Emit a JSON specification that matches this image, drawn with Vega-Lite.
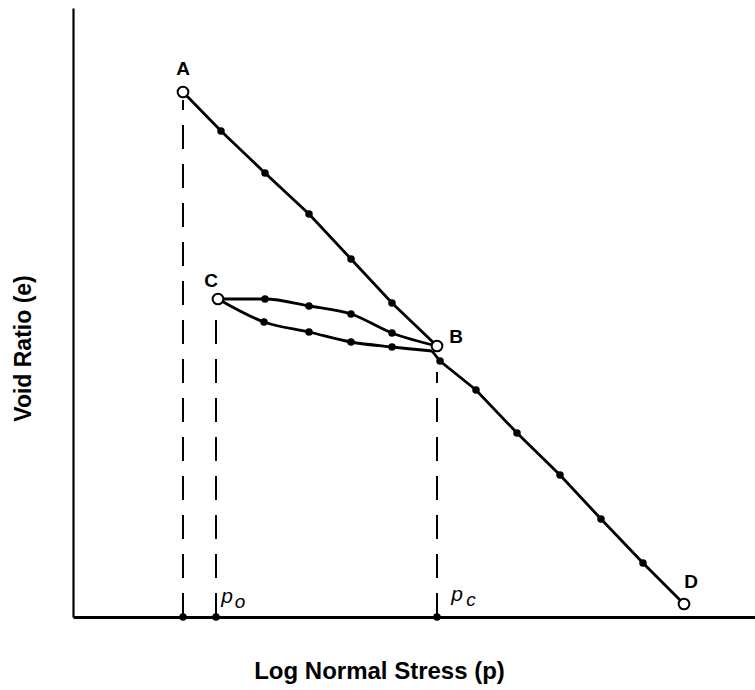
{
  "$schema": "https://vega.github.io/schema/vega-lite/v6.json",
  "width": 682,
  "height": 609,
  "autosize": {"type": "none"},
  "padding": {"left": 73, "top": 8, "right": 0, "bottom": 73},
  "background": "white",
  "config": {"view": {"stroke": null}, "font": "Liberation Sans"},
  "datasets": {
    "straight": [
      {"seg": "AB", "i": 0, "x": 113, "e": 525},
      {"seg": "AB", "i": 1, "x": 151, "e": 486},
      {"seg": "AB", "i": 2, "x": 195, "e": 444},
      {"seg": "AB", "i": 3, "x": 239, "e": 403},
      {"seg": "AB", "i": 4, "x": 281, "e": 358},
      {"seg": "AB", "i": 5, "x": 322, "e": 314},
      {"seg": "AB", "i": 6, "x": 367, "e": 271},
      {"seg": "BD", "i": 0, "x": 362, "e": 266},
      {"seg": "BD", "i": 1, "x": 370, "e": 256},
      {"seg": "BD", "i": 2, "x": 406, "e": 227},
      {"seg": "BD", "i": 3, "x": 447, "e": 184},
      {"seg": "BD", "i": 4, "x": 490, "e": 142},
      {"seg": "BD", "i": 5, "x": 531, "e": 98},
      {"seg": "BD", "i": 6, "x": 573, "e": 54},
      {"seg": "BD", "i": 7, "x": 614, "e": 13}
    ],
    "loops": [
      {"seg": "CBup", "i": 0, "x": 148, "e": 318},
      {"seg": "CBup", "i": 1, "x": 195, "e": 318},
      {"seg": "CBup", "i": 2, "x": 239, "e": 311},
      {"seg": "CBup", "i": 3, "x": 281, "e": 303},
      {"seg": "CBup", "i": 4, "x": 322, "e": 284},
      {"seg": "CBup", "i": 5, "x": 367, "e": 271},
      {"seg": "CBlow", "i": 0, "x": 148, "e": 318},
      {"seg": "CBlow", "i": 1, "x": 194, "e": 295},
      {"seg": "CBlow", "i": 2, "x": 239, "e": 285},
      {"seg": "CBlow", "i": 3, "x": 281, "e": 275},
      {"seg": "CBlow", "i": 4, "x": 322, "e": 270},
      {"seg": "CBlow", "i": 5, "x": 362, "e": 266}
    ],
    "dots": [
      {"x": 151, "e": 486}, {"x": 195, "e": 444}, {"x": 239, "e": 403},
      {"x": 281, "e": 358}, {"x": 322, "e": 314},
      {"x": 370, "e": 256}, {"x": 406, "e": 227}, {"x": 447, "e": 184},
      {"x": 490, "e": 142}, {"x": 531, "e": 98}, {"x": 573, "e": 54},
      {"x": 195, "e": 318}, {"x": 239, "e": 311}, {"x": 281, "e": 303}, {"x": 322, "e": 284},
      {"x": 194, "e": 295}, {"x": 239, "e": 285}, {"x": 281, "e": 275}, {"x": 322, "e": 270},
      {"x": 113, "e": 0}, {"x": 146, "e": 0}, {"x": 367, "e": 0}
    ],
    "nodes": [
      {"name": "A", "x": 113, "e": 525, "lx": 113, "le": 548},
      {"name": "B", "x": 367, "e": 271, "lx": 386, "le": 280},
      {"name": "C", "x": 148, "e": 318, "lx": 141, "le": 336},
      {"name": "D", "x": 614, "e": 13, "lx": 621, "le": 35}
    ],
    "guides": [
      {"x": 113, "e0": 0, "e1": 517},
      {"x": 146, "e0": 0, "e1": 309},
      {"x": 367, "e0": 0, "e1": 245}
    ],
    "pmain": [
      {"t": "p", "x": 157, "e": 20},
      {"t": "p", "x": 387, "e": 22}
    ],
    "psub": [
      {"t": "o", "x": 170, "e": 15},
      {"t": "c", "x": 401, "e": 17}
    ]
  },
  "encoding": {
    "x": {
      "field": "x", "type": "quantitative",
      "scale": {"domain": [3, 685], "nice": false, "zero": false},
      "axis": {
        "title": "Log Normal Stress (p)",
        "grid": false, "ticks": false, "labels": false,
        "domainColor": "black", "domainWidth": 2.8,
        "titleFont": "Liberation Sans", "titleFontSize": 24, "titleFontWeight": "bold",
        "titleColor": "black", "titleX": 306, "titleY": 54,
        "titleAlign": "center", "titleBaseline": "middle"
      }
    },
    "y": {
      "field": "e", "type": "quantitative",
      "scale": {"domain": [0, 609], "nice": false, "zero": false},
      "axis": {
        "title": "Void Ratio (e)",
        "grid": false, "ticks": false, "labels": false,
        "domainColor": "black", "domainWidth": 2.2,
        "titleFont": "Liberation Sans", "titleFontSize": 23, "titleFontWeight": "bold",
        "titleColor": "black", "titleX": -50, "titleY": 340,
        "titleAlign": "center", "titleBaseline": "middle", "titleAngle": 270
      }
    }
  },
  "layer": [
    {
      "data": {"name": "guides"},
      "mark": {"type": "rule", "color": "black", "strokeWidth": 2, "strokeDash": [24, 15]},
      "encoding": {
        "y": {"field": "e0", "type": "quantitative"},
        "y2": {"field": "e1"}
      }
    },
    {
      "data": {"name": "straight"},
      "mark": {"type": "line", "color": "black", "strokeWidth": 2.8, "interpolate": "linear"},
      "encoding": {
        "detail": {"field": "seg"},
        "order": {"field": "i", "type": "quantitative"}
      }
    },
    {
      "data": {"name": "loops"},
      "mark": {"type": "line", "color": "black", "strokeWidth": 2.8, "interpolate": "monotone"},
      "encoding": {
        "detail": {"field": "seg"},
        "order": {"field": "i", "type": "quantitative"}
      }
    },
    {
      "data": {"name": "dots"},
      "mark": {"type": "circle", "color": "black", "opacity": 1, "size": 56}
    },
    {
      "data": {"name": "nodes"},
      "mark": {"type": "point", "shape": "circle", "fill": "white", "filled": false, "stroke": "black", "strokeWidth": 2, "opacity": 1, "size": 115}
    },
    {
      "data": {"name": "nodes"},
      "mark": {"type": "text", "font": "Liberation Sans", "fontWeight": "bold", "fontSize": 19, "color": "black", "align": "center", "baseline": "middle"},
      "encoding": {
        "x": {"field": "lx", "type": "quantitative"},
        "y": {"field": "le", "type": "quantitative"},
        "text": {"field": "name"}
      }
    },
    {
      "data": {"name": "pmain"},
      "mark": {"type": "text", "font": "Liberation Sans", "fontStyle": "italic", "fontSize": 21, "color": "black", "align": "center", "baseline": "middle"},
      "encoding": {"text": {"field": "t"}}
    },
    {
      "data": {"name": "psub"},
      "mark": {"type": "text", "font": "Liberation Sans", "fontStyle": "italic", "fontSize": 19, "color": "black", "align": "center", "baseline": "middle"},
      "encoding": {"text": {"field": "t"}}
    }
  ]
}
